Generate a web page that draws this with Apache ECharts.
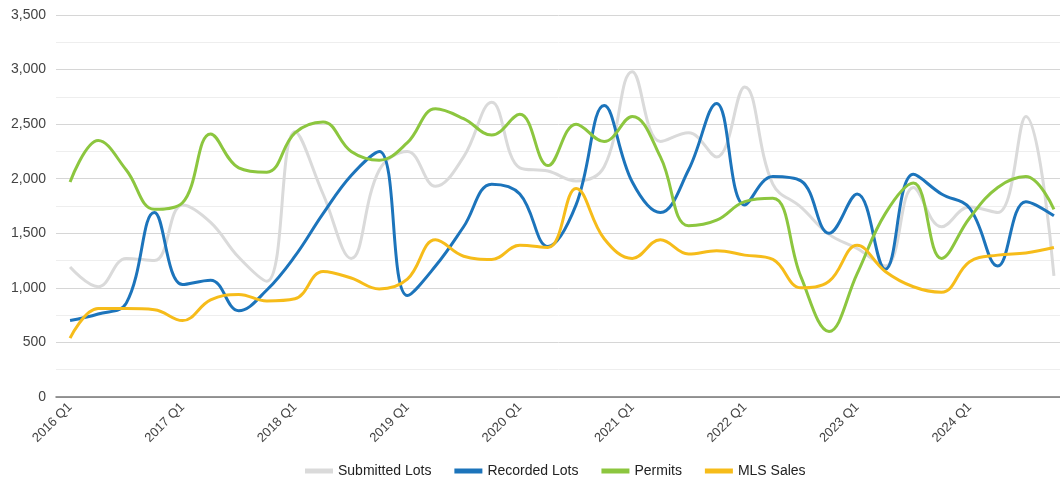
<!DOCTYPE html>
<html>
<head>
<meta charset="utf-8">
<script src="https://cdn.jsdelivr.net/npm/echarts@6/dist/echarts.min.js"></script>
<style>
html,body{margin:0;padding:0;background:#fff;}
#chart{width:1060px;height:482px;}
</style>
</head>
<body>
<div id="chart"></div>
<script>
const years = [2016, 2017, 2018, 2019, 2020, 2021, 2022, 2023, 2024];
const quarters = [];
years.forEach(y => { for (let q = 1; q <= 4; q++) quarters.push(y + ' Q' + q); });

const submittedLots = [1190, 1010, 1270, 1250, 1760, 1600, 1280, 1060, 2430, 1860, 1270, 2080,
                       2250, 1930, 2200, 2700, 2100, 2070, 1980, 2110, 2980, 2340, 2420, 2200,
                       2840, 1950, 1740, 1490, 1360, 1200, 1920, 1560, 1740, 1690, 2570, 1110];
const recordedLots  = [700, 760, 860, 1690, 1030, 1070, 790, 980, 1290, 1680, 2030, 2250,
                       930, 1200, 1560, 1950, 1860, 1380, 1760, 2670, 1970, 1690, 2080, 2690,
                       1760, 2020, 1980, 1500, 1860, 1170, 2040, 1860, 1730, 1200, 1790, 1660];
const permits       = [1970, 2350, 2080, 1720, 1780, 2410, 2100, 2060, 2420, 2520, 2250, 2170,
                       2330, 2640, 2550, 2400, 2590, 2120, 2500, 2340, 2570, 2200, 1570, 1620,
                       1790, 1820, 1100, 600, 1130, 1680, 1960, 1270, 1640, 1920, 2020, 1720];
const mlsSales      = [540, 810, 810, 800, 700, 890, 940, 880, 900, 1150, 1090, 990,
                       1080, 1440, 1290, 1260, 1390, 1370, 1910, 1450, 1270, 1440, 1310, 1340,
                       1300, 1260, 1000, 1060, 1390, 1150, 1010, 960, 1240, 1300, 1320, 1370];

const seriesNames = ['Submitted Lots', 'Recorded Lots', 'Permits', 'MLS Sales'];
const seriesData = [submittedLots, recordedLots, permits, mlsSales];
const colors = ['#dadada', '#1c74bb', '#8cc63f', '#f6bc1a'];

const chart = echarts.init(document.getElementById('chart'));
chart.setOption({
  animation: false,
  color: colors,
  grid: { left: 56, top: 15, width: 1012, height: 382, containLabel: false, outerBoundsMode: 'none' },
  legend: {
    top: 459, left: 300,
    icon: 'rect', itemWidth: 28, itemHeight: 5, itemGap: 23,
    textStyle: { fontFamily: 'Liberation Sans, Arial, sans-serif', fontSize: 14, color: '#222' },
    data: seriesNames
  },
  xAxis: {
    type: 'category',
    data: quarters,
    boundaryGap: true,
    axisLine: { lineStyle: { color: '#777', width: 1.5 } },
    axisTick: { show: false },
    axisLabel: {
      interval: 3, rotate: 45, margin: 8,
      fontFamily: 'Liberation Sans, Arial, sans-serif', fontSize: 13, color: '#444'
    },
    splitLine: { show: false }
  },
  yAxis: {
    type: 'value',
    min: 0, max: 3500, interval: 500,
    axisLine: { show: false },
    axisTick: { show: false },
    axisLabel: {
      margin: 10,
      fontFamily: 'Liberation Sans, Arial, sans-serif', fontSize: 14, color: '#444',
      formatter: v => v.toLocaleString('en-US')
    },
    splitLine: { lineStyle: { color: '#d6d6d6', width: 1 } },
    minorTick: { show: false, splitNumber: 2 },
    minorSplitLine: { show: true, lineStyle: { color: '#eeeeee', width: 1 } }
  },
  series: seriesNames.map((name, i) => ({
    name: name,
    type: 'line',
    data: seriesData[i],
    smooth: 0.4,
    symbol: 'none',
    lineStyle: { width: 3, color: colors[i] },
    itemStyle: { color: colors[i] },
    z: 2 + i
  }))
});
</script>
</body>
</html>
